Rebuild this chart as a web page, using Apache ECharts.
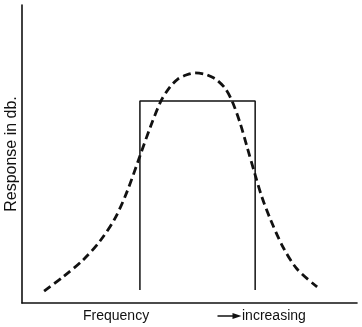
<!DOCTYPE html>
<html>
<head>
<meta charset="utf-8">
<script src="https://cdn.jsdelivr.net/npm/echarts@6/dist/echarts.min.js"></script>
<style>
  html, body { margin: 0; padding: 0; background: #fff; }
  #chart { width: 362px; height: 327px; }
</style>
</head>
<body>
<div id="chart"></div>
<script>
// Relative response (0-100) of an ideal band-pass filter and a real tuned circuit
// against frequency (0-100, increasing to the right).
const curveFreq = [6.6, 12.2, 18.2, 23.3, 27.8, 31.3, 35.2, 38.2, 41.5, 44.2, 46.6, 49.0, 51.6, 54.6, 56.7, 58.2, 60.6, 62.7, 65.1, 67.2, 69.6, 71.6, 74.0, 77.9, 82.1, 88.1];
const curveResp = [4.0, 8.7, 14.4, 20.8, 28.5, 37.2, 49.3, 58.7, 67.8, 72.5, 75.2, 76.5, 77.2, 76.8, 75.8, 74.8, 72.1, 67.8, 60.4, 52.3, 43.0, 35.6, 28.5, 18.8, 11.4, 5.4];

// Ideal pass band: flat response between the two cut-off frequencies
const bandFreq = [35.2, 35.2, 69.6, 69.6];
const bandResp = [4.4, 67.8, 67.8, 4.4];

const axisTitleY = 'Response in db.';
const axisTitleX = 'Frequency';
const directionText = 'increasing';

const FONT = '"Liberation Sans", Arial, sans-serif';
const INK = '#111';

const zip = (xs, ys) => xs.map((x, i) => [x, ys[i]]);

const chart = echarts.init(document.getElementById('chart'), null, { renderer: 'canvas' });
chart.setOption({
  backgroundColor: '#fff',
  animation: false,
  grid: { left: 22, right: 5, top: 5, bottom: 24, containLabel: false, outerBoundsMode: 'none' },
  xAxis: {
    type: 'value', min: 0, max: 100,
    axisLine: { show: true, onZero: false, lineStyle: { color: INK, width: 1.6 } },
    axisTick: { show: false }, axisLabel: { show: false }, splitLine: { show: false }
  },
  yAxis: {
    type: 'value', min: 0, max: 100,
    name: axisTitleY, nameLocation: 'middle', nameGap: 2, nameRotate: 90,
    nameTextStyle: { fontFamily: FONT, fontSize: 16, color: INK },
    axisLine: { show: true, onZero: false, lineStyle: { color: INK, width: 1.6 } },
    axisTick: { show: false }, axisLabel: { show: false }, splitLine: { show: false }
  },
  series: [
    {
      type: 'line', data: zip(bandFreq, bandResp), symbol: 'none', silent: true,
      lineStyle: { color: INK, width: 1.5 }
    },
    {
      type: 'line', data: zip(curveFreq, curveResp), symbol: 'none', smooth: 0.3, silent: true,
      lineStyle: { color: INK, width: 2.8, type: [8, 4.5] }
    }
  ],
  graphic: [
    {
      type: 'text', left: 83, top: 309,
      style: { text: axisTitleX, font: '14px ' + FONT, fill: INK }
    },
    {
      type: 'group', left: 215, top: 313,
      children: [
        { type: 'line', shape: { x1: 0, y1: 3, x2: 18, y2: 3 }, style: { stroke: INK, lineWidth: 1.5 } },
        { type: 'polygon', shape: { points: [[15, 0], [24, 3], [15, 6]] }, style: { fill: INK } }
      ]
    },
    {
      type: 'text', left: 242, top: 309,
      style: { text: directionText, font: '14px ' + FONT, fill: INK }
    }
  ]
});
</script>
</body>
</html>
